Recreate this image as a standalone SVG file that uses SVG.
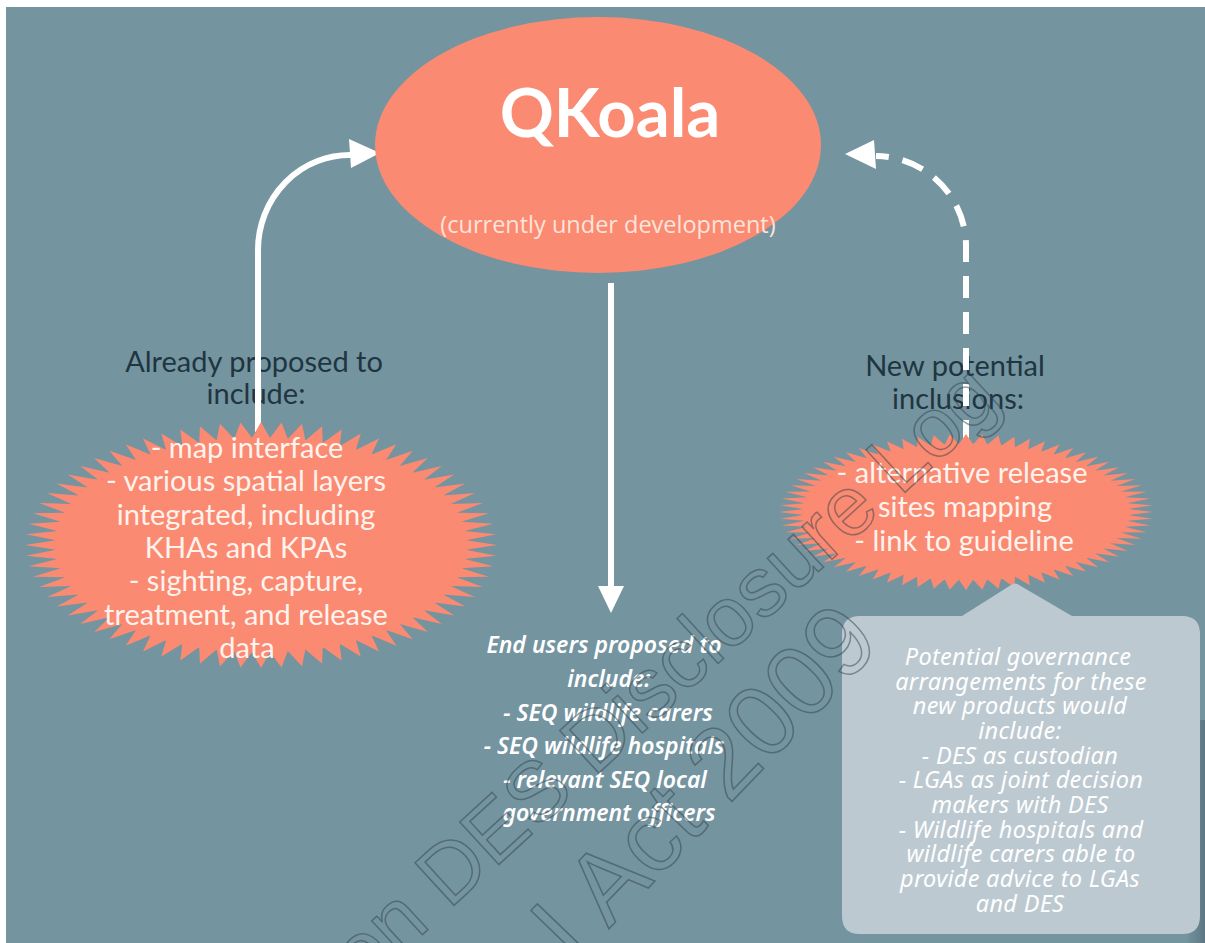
<svg xmlns="http://www.w3.org/2000/svg" width="1205" height="943" viewBox="0 0 1205 943">
  <style>
    .bg{fill:#7494a0}
    .salmon{fill:#fb8a72}
    .cap{font-family:Lato,"Liberation Sans",sans-serif;font-size:29px;fill:#1f3540;text-anchor:middle}
    .bt{font-family:Lato,"Liberation Sans",sans-serif;font-size:29px;fill:#fff3ee;text-anchor:middle}
    .hand{font-family:"Noto Sans","DejaVu Sans",sans-serif;font-style:italic;text-anchor:middle;fill:#ffffff}
    .users{font-size:23px;font-weight:600}
    .gov{font-size:23.5px;letter-spacing:.3px}
    .wire{stroke:#ffffff;stroke-width:6;fill:none}
    .dash{stroke-dasharray:22 14}
    .head{fill:#ffffff}
    .wm{font-family:"Liberation Sans",sans-serif;fill:none;stroke:#33434b;stroke-width:1.5;opacity:.5}
  </style>
  <defs>
    <!-- one spike of a 72-point starburst, in unit-circle coordinates -->
    <path id="spike" d="M0 0L0.86917 -0.03795L1 0L0.86917 0.03795Z"/>
    <g id="sp2"><use href="#spike"/><use href="#spike" transform="rotate(5)"/></g>
    <g id="sp4"><use href="#sp2"/><use href="#sp2" transform="rotate(10)"/></g>
    <g id="sp8"><use href="#sp4"/><use href="#sp4" transform="rotate(20)"/></g>
    <g id="burst">
      <circle r="0.875"/>
      <use href="#sp8"/>
      <use href="#sp8" transform="rotate(40)"/>
      <use href="#sp8" transform="rotate(80)"/>
      <use href="#sp8" transform="rotate(120)"/>
      <use href="#sp8" transform="rotate(160)"/>
      <use href="#sp8" transform="rotate(200)"/>
      <use href="#sp8" transform="rotate(240)"/>
      <use href="#sp8" transform="rotate(280)"/>
      <use href="#sp8" transform="rotate(320)"/>
    </g>
    <linearGradient id="edgeShade" x1="0" y1="0" x2="1" y2="0">
      <stop offset="0" stop-color="#5a7480" stop-opacity="0"/>
      <stop offset="1" stop-color="#5a7480" stop-opacity="0.9"/>
    </linearGradient>
  </defs>

  <!-- page and slide background -->
  <rect width="1205" height="943" fill="#ffffff"/>
  <rect class="bg" x="6" y="7" width="1199" height="936"/>
  <rect x="1186" y="720" width="19" height="223" fill="url(#edgeShade)"/>

  <!-- captions above the two starbursts -->
  <g id="caption-existing">
    <text class="cap" x="254" y="372">Already proposed to</text>
    <text class="cap" x="256" y="404">include:</text>
  </g>
  <g id="caption-new">
    <text class="cap" x="955" y="376">New potential</text>
    <text class="cap" x="958" y="409">inclusions:</text>
  </g>

  <!-- connectors -->
  <g id="connectors">
    <path class="wire" d="M258 432V250A92 95 0 0 1 352 155"/>
    <polygon class="head" points="380,153 349,139 351,168"/>
    <path class="wire" d="M611 283V590"/>
    <polygon class="head" points="611,613 598,586 624,586"/>
    <path class="wire dash" d="M966 442V247A91 90 0 0 0 876 156"/>
    <polygon class="head" points="845,154 874,140 876,169"/>
  </g>

  <!-- existing features -->
  <g id="node-existing">
    <use href="#burst" class="salmon" transform="translate(261 545) scale(236 123)"/>
    <text class="bt" x="247" y="458">- map interface</text>
    <text class="bt" x="246" y="491">- various spatial layers</text>
    <text class="bt" x="246" y="525">integrated, including</text>
    <text class="bt" x="246" y="558">KHAs and KPAs</text>
    <text class="bt" x="246" y="591">- sighting, capture,</text>
    <text class="bt" x="246" y="625">treatment, and release</text>
    <text class="bt" x="247" y="658">data</text>
  </g>

  <!-- new features -->
  <g id="node-new">
    <use href="#burst" class="salmon" transform="translate(966 512) scale(187 78)"/>
    <text class="bt" x="962" y="483">- alternative release</text>
    <text class="bt" x="965" y="517">sites mapping</text>
    <text class="bt" x="964" y="551">- link to guideline</text>
  </g>

  <!-- central app -->
  <g id="node-qkoala">
    <ellipse class="salmon" cx="598" cy="145" rx="223" ry="128"/>
    <text x="610" y="137" text-anchor="middle" font-family="Lato, 'Liberation Sans', sans-serif" font-weight="bold" font-size="67" fill="#ffffff">QKoala</text>
    <text x="608" y="233" text-anchor="middle" font-family="'Open Sans', 'Liberation Sans', sans-serif" font-size="23.5" fill="#fde4da">(currently under development)</text>
  </g>

  <!-- end users -->
  <g id="node-users" class="hand users">
    <text x="604" y="653">End users proposed to</text>
    <text x="609" y="687">include:</text>
    <text x="608" y="721">- SEQ wildlife carers</text>
    <text x="604" y="754">- SEQ wildlife hospitals</text>
    <text x="605" y="788">- relevant SEQ local</text>
    <text x="609" y="821">government officers</text>
  </g>

  <!-- governance callout -->
  <g id="node-governance">
    <path fill="#bdc9d1" d="M860 616H962L1011 585Q1015 582 1019 585L1072 616H1182Q1200 616 1200 634V916Q1200 934 1182 934H860Q842 934 842 916V634Q842 616 860 616Z"/>
    <g class="hand gov">
      <text x="1018" y="665">Potential governance</text>
      <text x="1021" y="690">arrangements for these</text>
      <text x="1020" y="714">new products would</text>
      <text x="1020" y="739">include:</text>
      <text x="1020" y="764">- DES as custodian</text>
      <text x="1021" y="788">- LGAs as joint decision</text>
      <text x="1020" y="813">makers with DES</text>
      <text x="1021" y="838">- Wildlife hospitals and</text>
      <text x="1021" y="862">wildlife carers able to</text>
      <text x="1020" y="887">provide advice to LGAs</text>
      <text x="1020" y="912">and DES</text>
    </g>
  </g>

  <!-- disclosure watermark -->
  <g id="watermark">
    <text class="wm" font-size="84" transform="translate(363 989) rotate(-42.5)">on DES Disclosure Log</text>
    <text class="wm" font-size="100" transform="translate(574 965) rotate(-46)">I Act 2009</text>
  </g>
</svg>
